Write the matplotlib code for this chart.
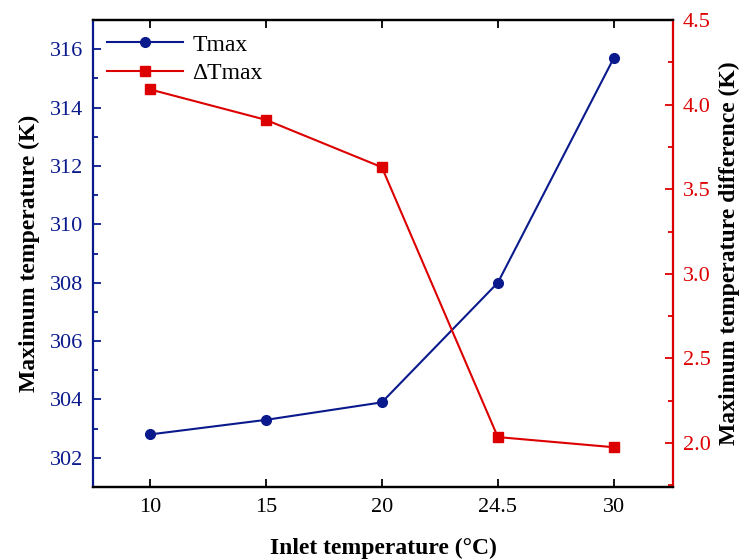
import matplotlib
matplotlib.use("Agg")
import matplotlib.pyplot as plt
from matplotlib.ticker import MultipleLocator

plt.rcParams['font.family'] = ['Liberation Serif', 'DejaVu Serif']

inlet = ['10', '15', '20', '24.5', '30']
tmax = [302.8, 303.3, 303.9, 308.0, 315.7]
dtmax = [4.09, 3.91, 3.63, 2.035, 1.975]

blue = '#0a1a8c'
red = '#dd0000'

fig = plt.figure(figsize=(7.41, 5.6), dpi=100)
ax = fig.add_axes([93/741, 1-487/560, (673-93)/741, (487-20)/560])
ax2 = ax.twinx()

x = list(range(len(inlet)))
l1, = ax.plot(x, tmax, '-o', color=blue, ms=7, lw=1.5, label='Tmax')
l2, = ax2.plot(x, dtmax, '-s', color=red, ms=7, lw=1.5, label='ΔTmax')

ax.set_xlim(-0.49, 4.51)
ax.set_ylim(301.0, 317.0)
ax2.set_ylim(1.74, 4.5)

ax.set_xticks(x)
ax.set_xticklabels(inlet)
ax.yaxis.set_major_locator(MultipleLocator(2))
ax.yaxis.set_minor_locator(MultipleLocator(1))
ax2.yaxis.set_major_locator(MultipleLocator(0.5))
ax2.yaxis.set_minor_locator(MultipleLocator(0.25))

ax.tick_params(axis='x', direction='in', top=True, length=6, width=1.3, labelsize=16, pad=8)
ax.tick_params(axis='y', which='major', direction='in', length=6, width=1.3, colors=blue, labelsize=16, pad=7)
ax.tick_params(axis='y', which='minor', direction='in', length=3.5, width=1.3, colors=blue)
ax2.tick_params(axis='y', which='major', direction='in', length=6, width=1.3, colors=red, labelsize=16, pad=7)
ax2.tick_params(axis='y', which='minor', direction='in', length=3.5, width=1.3, colors=red)

for s in ['top', 'bottom']:
    ax.spines[s].set_linewidth(1.6)
    ax2.spines[s].set_linewidth(1.6)
ax2.spines['left'].set_color(blue)
ax2.spines['left'].set_linewidth(1.6)
ax2.spines['right'].set_color(red)
ax2.spines['right'].set_linewidth(1.6)
ax.spines['left'].set_visible(False)
ax.spines['right'].set_visible(False)

ax.set_xlabel('Inlet temperature (°C)', fontsize=17, fontweight='bold', labelpad=15)
ax.set_ylabel('Maximum temperature (K)', fontsize=17, fontweight='bold', labelpad=7)
ax2.set_ylabel('Maximum temperature difference (K)', fontsize=17, fontweight='bold', labelpad=6)

ax.legend([l1, l2], ['Tmax', 'ΔTmax'], loc='upper left', frameon=False, fontsize=17,
          handlelength=3.2, handletextpad=0.4, borderaxespad=0.2, labelspacing=0.3)

fig.savefig('out.png', dpi=100)
